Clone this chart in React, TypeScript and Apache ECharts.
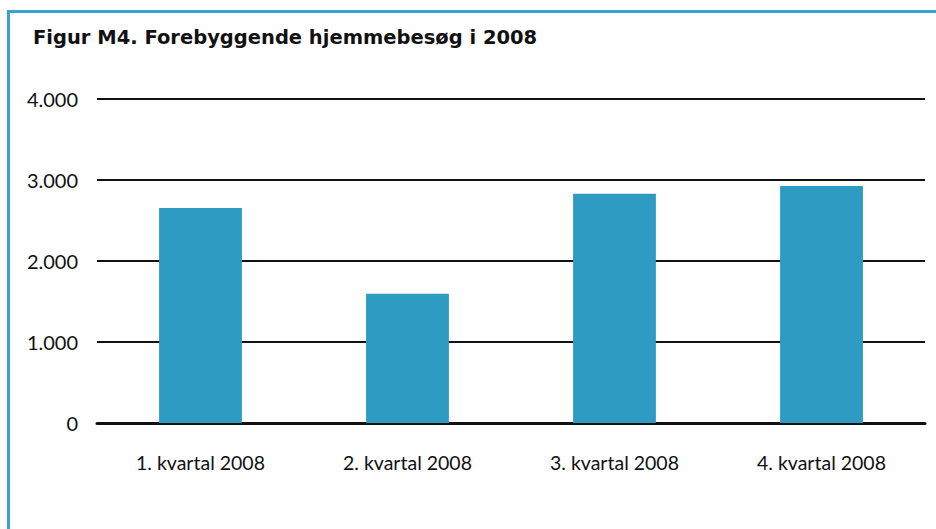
import React, { useEffect, useRef } from "react";
import * as echarts from "echarts";

const categories = ["1. kvartal 2008", "2. kvartal 2008", "3. kvartal 2008", "4. kvartal 2008"];
const values = [2655, 1595, 2830, 2925];
const titleText = "Figur M4. Forebyggende hjemmebesøg i 2008";

const fmt = (v: number) => {
  const s = String(Math.round(v));
  return s.replace(/\B(?=(\d{3})+(?!\d))/g, ".");
};

export default function App() {
  const ref = useRef<HTMLDivElement>(null);
  useEffect(() => {
    if (!ref.current) return;
    const chart = echarts.init(ref.current, undefined, { renderer: "svg" });
    const font = "Lato, 'Open Sans', sans-serif";
    chart.setOption({
      animation: false,
      backgroundColor: "#ffffff",
      textStyle: { fontFamily: font },
      title: {
        text: titleText,
        left: 33,
        top: 27,
        padding: 0,
        textStyle: { fontFamily: "'DejaVu Sans', sans-serif", fontSize: 19.5, fontWeight: "bold", color: "#111111" },
      },
      graphic: [
        { type: "rect", shape: { x: 8, y: 10, width: 928, height: 3 }, style: { fill: "#3AA3CE" } },
        { type: "rect", shape: { x: 7, y: 10, width: 3, height: 519 }, style: { fill: "#3AA3CE" } },
      ],
      grid: { left: 97, right: 11, top: 99, bottom: 106, containLabel: false },
      xAxis: {
        type: "category",
        data: categories,
        axisLine: { show: true, lineStyle: { color: "#111111", width: 3 } },
        axisTick: { show: false },
        axisLabel: { fontFamily: font, fontSize: 19.5, color: "#111111", margin: 29 },
      },
      yAxis: {
        type: "value",
        min: 0,
        max: 4000,
        interval: 1000,
        axisLine: { show: false },
        axisTick: { show: false },
        splitLine: { lineStyle: { color: "#111111", width: 2 } },
        axisLabel: { fontFamily: font, fontSize: 20, color: "#111111", margin: 19, formatter: (v: number) => fmt(v) },
      },
      series: [
        {
          type: "bar",
          data: values,
          barWidth: "40%",
          itemStyle: { color: "#2E9BC2" },
        },
      ],
    });
    return () => chart.dispose();
  }, []);
  return <div ref={ref} style={{ position: "absolute", left: 0, top: 0, width: 936, height: 529 }} />;
}
